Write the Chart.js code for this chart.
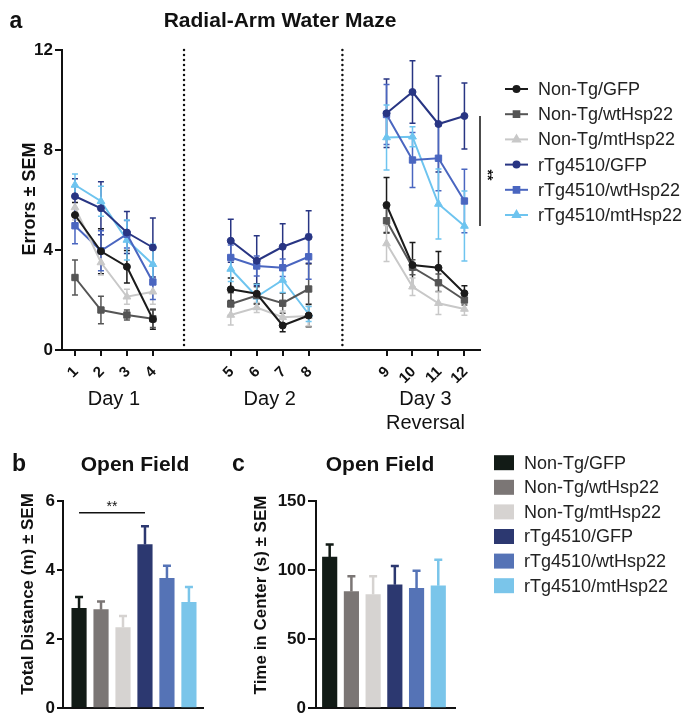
<!DOCTYPE html>
<html>
<head>
<meta charset="utf-8">
<script src="https://cdn.jsdelivr.net/npm/chart.js@4.4.1/dist/chart.umd.min.js"></script>
<style>
  html, body { margin: 0; padding: 0; background: #fff; }
  #wrap { position: relative; width: 696px; height: 721px; }
  canvas { position: absolute; }
</style>
</head>
<body>
<div id="wrap">
  <canvas id="rawm" width="696" height="440" style="left:0;top:0"></canvas>
  <canvas id="dist" width="220" height="281" style="left:0;top:440px"></canvas>
  <canvas id="center" width="476" height="281" style="left:220px;top:440px"></canvas>
</div>
<script>
// groups and colours
const groups = ['Non-Tg/GFP', 'Non-Tg/wtHsp22', 'Non-Tg/mtHsp22', 'rTg4510/GFP', 'rTg4510/wtHsp22', 'rTg4510/mtHsp22'];
const lineColors = ['#1b1b1b', '#555555', '#c8c8c8', '#283583', '#4a66c0', '#6ec4ef'];
const barColors = ['#121b16', '#7b7675', '#d6d3d1', '#2c3870', '#5573b6', '#7ac5ea'];
const markers = ['circle', 'rect', 'triangle', 'circle', 'rect', 'triangle'];
const markerSize = [3.5, 4.5, 4.5, 3.5, 4.5, 4.5];

// radial arm water maze: trials, grouped in days
const trials = [1, 2, 3, 4, 5, 6, 7, 8, 9, 10, 11, 12];
const trialPos = [1, 2, 3, 4, 7, 8, 9, 10, 13, 14, 15, 16];
const days = ['Day 1', 'Day 2', 'Day 3'];
const dayCenter = [2.5, 8.5, 14.5];
const dayDividers = [5.2, 11.3];

const nonTgGfp    = [5.4, 3.95, 3.33, 1.23, 2.43, 2.25, 0.98, 1.38, 5.8, 3.4, 3.29, 2.27];
const nonTgGfpSem = [0.5, 0.9, 0.65, 0.4, 0.45, 0.4, 0.25, 0.45, 1.1, 0.9, 0.65, 0.3];
const nonTgWt     = [2.9, 1.6, 1.4, 1.25, 1.84, 2.18, 1.87, 2.44, 5.17, 3.31, 2.69, 2.0];
const nonTgWtSem  = [0.7, 0.55, 0.2, 0.35, 0.45, 0.35, 0.4, 1.0, 0.5, 0.3, 0.35, 0.2];
const nonTgMt     = [5.7, 3.5, 2.13, 2.33, 1.4, 1.7, 1.31, 1.36, 4.26, 2.53, 1.87, 1.64];
const nonTgMtSem  = [0.5, 0.5, 0.3, 0.5, 0.4, 0.2, 0.25, 0.4, 0.72, 0.35, 0.45, 0.25];
const rtgGfp      = [6.15, 5.67, 4.7, 4.1, 4.37, 3.57, 4.13, 4.52, 9.47, 10.32, 9.04, 9.36];
const rtgGfpSem   = [0.7, 1.06, 0.84, 1.18, 0.86, 1.0, 0.92, 1.05, 1.37, 1.25, 1.92, 1.32];
const rtgWt       = [4.97, 3.97, 4.63, 2.72, 3.7, 3.36, 3.29, 3.73, 9.42, 7.6, 7.67, 5.96];
const rtgWtSem    = [0.72, 0.8, 0.55, 0.7, 0.5, 0.4, 0.35, 0.9, 1.2, 1.1, 1.3, 1.27];
const rtgMt       = [6.6, 5.95, 4.4, 3.43, 3.24, 2.13, 2.8, 1.44, 8.5, 8.53, 5.84, 4.96];
const rtgMtSem    = [0.44, 0.6, 0.8, 0.8, 0.5, 0.5, 0.5, 0.3, 1.3, 0.4, 1.4, 1.4];

// open field
const distance    = [2.89, 2.85, 2.33, 4.74, 3.76, 3.06];
const distanceSem = [0.33, 0.24, 0.34, 0.53, 0.36, 0.45];
const centerTime    = [109.4, 84.4, 82.2, 89.3, 86.8, 88.5];
const centerTimeSem = [9, 11, 13.3, 13.6, 12.7, 19];

const series = [nonTgGfp, nonTgWt, nonTgMt, rtgGfp, rtgWt, rtgMt];
const seriesSem = [nonTgGfpSem, nonTgWtSem, nonTgMtSem, rtgGfpSem, rtgWtSem, rtgMtSem];

const FONT = '"Liberation Sans", Arial, sans-serif';
Chart.defaults.font.family = FONT;
Chart.defaults.color = '#111';

function text(ctx, str, x, y, font, align, rot) {
  ctx.save();
  ctx.font = font;
  ctx.fillStyle = '#111';
  ctx.textAlign = align || 'center';
  ctx.textBaseline = 'middle';
  ctx.translate(x, y);
  if (rot) ctx.rotate(rot);
  ctx.fillText(str, 0, 0);
  ctx.restore();
}

const lineErrorBars = {
  id: 'lineErrorBars',
  beforeDatasetsDraw(chart) {
    const { ctx, scales: { x, y } } = chart;
    chart.data.datasets.forEach(ds => {
      ctx.save();
      ctx.strokeStyle = ds.borderColor;
      ctx.lineWidth = 1.5;
      ds.data.forEach((p, i) => {
        const px = x.getPixelForValue(p.x);
        const top = y.getPixelForValue(p.y + ds.sem[i]);
        const bot = y.getPixelForValue(p.y - ds.sem[i]);
        ctx.beginPath();
        ctx.moveTo(px, top); ctx.lineTo(px, bot);
        ctx.moveTo(px - 3, top); ctx.lineTo(px + 3, top);
        ctx.moveTo(px - 3, bot); ctx.lineTo(px + 3, bot);
        ctx.stroke();
      });
      ctx.restore();
    });
  }
};

const rawmDecor = {
  id: 'rawmDecor',
  afterDraw(chart) {
    const { ctx, scales: { x, y }, chartArea } = chart;
    text(ctx, 'a', 16, 22, 'bold 23px ' + FONT);
    text(ctx, 'Radial-Arm Water Maze', 280, 21, 'bold 21px ' + FONT);
    text(ctx, 'Errors \u00b1 SEM', 30, 199, 'bold 18px ' + FONT, 'center', -Math.PI / 2);

    // dotted day dividers
    ctx.save();
    ctx.strokeStyle = '#111';
    ctx.lineWidth = 2.5;
    ctx.lineCap = 'round';
    ctx.setLineDash([0, 5]);
    dayDividers.forEach(d => {
      const px = x.getPixelForValue(d);
      ctx.beginPath();
      ctx.moveTo(px, chartArea.top);
      ctx.lineTo(px, chartArea.bottom - 2);
      ctx.stroke();
    });
    ctx.restore();

    days.forEach((d, i) => text(ctx, d, x.getPixelForValue(dayCenter[i]), 399, '20px ' + FONT));
    text(ctx, 'Reversal', x.getPixelForValue(dayCenter[2]), 423, '20px ' + FONT);

    // significance bracket on trial 12
    const bx = chartArea.right;
    const y1 = y.getPixelForValue(rtgGfp[11]);
    const y2 = y.getPixelForValue(rtgMt[11]);
    ctx.save();
    ctx.strokeStyle = '#111';
    ctx.lineWidth = 1.5;
    ctx.beginPath();
    ctx.moveTo(bx, y1); ctx.lineTo(bx, y2);
    ctx.stroke();
    ctx.restore();
    text(ctx, '**', bx + 7, (y1 + y2) / 2 + 4, 'bold 14px ' + FONT, 'center', Math.PI / 2);

    // legend
    groups.forEach((g, i) => {
      const ly = 89 + 25.2 * i;
      ctx.save();
      ctx.strokeStyle = lineColors[i];
      ctx.fillStyle = lineColors[i];
      ctx.lineWidth = 2;
      ctx.beginPath();
      ctx.moveTo(505, ly); ctx.lineTo(528, ly);
      ctx.stroke();
      Chart.helpers.drawPoint(ctx, { pointStyle: markers[i], radius: markerSize[i] - 0.5, rotation: 0, borderWidth: 1 }, 516.5, ly);
      ctx.restore();
      ctx.save();
      ctx.font = '18px ' + FONT;
      ctx.fillStyle = '#222';
      ctx.textBaseline = 'middle';
      ctx.fillText(g, 538, ly + 1);
      ctx.restore();
    });
  }
};

new Chart(document.getElementById('rawm'), {
  type: 'line',
  data: {
    datasets: groups.map((g, k) => ({
      label: g,
      data: series[k].map((v, i) => ({ x: trialPos[i], y: v })),
      sem: seriesSem[k],
      borderColor: lineColors[k],
      backgroundColor: lineColors[k],
      pointBackgroundColor: lineColors[k],
      pointStyle: markers[k],
      pointRadius: markerSize[k],
      pointBorderWidth: 1,
      borderWidth: 2,
      segment: {
        borderColor: c => (c.p1.parsed.x - c.p0.parsed.x > 1.5 ? 'rgba(0,0,0,0)' : undefined)
      }
    }))
  },
  options: {
    responsive: false,
    animation: false,
    events: [],
    layout: { padding: { top: 50, right: 216, left: 0, bottom: 0 } },
    plugins: { legend: { display: false }, tooltip: { enabled: false } },
    scales: {
      x: {
        type: 'linear', min: 0.5, max: 16.6,
        afterBuildTicks: s => { s.ticks = trialPos.map(v => ({ value: v })); },
        afterFit: s => { s.height = 90; },
        ticks: {
          autoSkip: false, minRotation: 45, maxRotation: 45, padding: 7, labelOffset: 1,
          font: { size: 15, weight: 'bold' }, color: '#111',
          callback: (v, i) => trials[i]
        },
        grid: { drawOnChartArea: false, tickLength: 6, color: '#111', lineWidth: 2 },
        border: { color: '#111', width: 2 }
      },
      y: {
        min: 0, max: 12,
        afterFit: s => { s.width = 62; },
        ticks: { stepSize: 4, padding: 2, font: { size: 17, weight: 'bold' }, color: '#111' },
        grid: { drawOnChartArea: false, tickLength: 7, color: '#111', lineWidth: 2 },
        border: { color: '#111', width: 2 }
      }
    }
  },
  plugins: [lineErrorBars, rawmDecor]
});

// open field bar charts
function barErrors(sem) {
  return {
    id: 'barErrors',
    afterDatasetsDraw(chart) {
      const { ctx, scales: { x, y } } = chart;
      const ds = chart.data.datasets[0];
      ds.data.forEach((p, i) => {
        const px = x.getPixelForValue(p.x);
        const base = y.getPixelForValue(p.y);
        const top = y.getPixelForValue(p.y + sem[i]);
        ctx.save();
        ctx.strokeStyle = barColors[i];
        ctx.lineWidth = 2.5;
        ctx.beginPath();
        ctx.moveTo(px, base); ctx.lineTo(px, top);
        ctx.moveTo(px - 4, top); ctx.lineTo(px + 4, top);
        ctx.stroke();
        ctx.restore();
      });
    }
  };
}

function barOptions(cfg) {
  return {
    responsive: false,
    animation: false,
    events: [],
    layout: { padding: { top: 61, right: cfg.right, left: 0, bottom: 0 } },
    plugins: { legend: { display: false }, tooltip: { enabled: false } },
    scales: {
      x: {
        type: 'linear', min: cfg.xmin, max: cfg.xmax, offset: false,
        afterFit: s => { s.height = 13; },
        ticks: { display: false },
        grid: { display: false, offset: false },
        border: { color: '#111', width: 2 }
      },
      y: {
        min: 0, max: cfg.ymax,
        afterFit: s => { s.width = cfg.axisW; },
        ticks: { stepSize: cfg.step, padding: 2, font: { size: 17, weight: 'bold' }, color: '#111' },
        grid: { drawOnChartArea: false, tickLength: cfg.tick, color: '#111', lineWidth: 2 },
        border: { color: '#111', width: 2 }
      }
    }
  };
}

new Chart(document.getElementById('dist'), {
  type: 'bar',
  data: {
    datasets: [{
      label: 'Total Distance',
      data: distance.map((v, i) => ({ x: i, y: v })),
      backgroundColor: barColors,
      barThickness: 14.5
    }]
  },
  options: barOptions({ right: 17, xmin: -0.73, xmax: 5.64, ymax: 6, step: 2, axisW: 63, tick: 6 }),
  plugins: [barErrors(distanceSem), {
    id: 'distDecor',
    afterDraw(chart) {
      const { ctx, scales: { x, y } } = chart;
      text(ctx, 'b', 19, 25, 'bold 23px ' + FONT);
      text(ctx, 'Open Field', 135, 25, 'bold 21px ' + FONT);
      text(ctx, 'Total Distance (m) \u00b1 SEM', 28, 154, 'bold 17px ' + FONT, 'center', -Math.PI / 2);
      const sy = y.getPixelForValue(5.66);
      ctx.save();
      ctx.strokeStyle = '#111';
      ctx.lineWidth = 1.5;
      ctx.beginPath();
      ctx.moveTo(x.getPixelForValue(0), sy);
      ctx.lineTo(x.getPixelForValue(3), sy);
      ctx.stroke();
      ctx.restore();
      text(ctx, '**', (x.getPixelForValue(0) + x.getPixelForValue(3)) / 2, sy - 6, '14px ' + FONT);
    }
  }]
});

new Chart(document.getElementById('center'), {
  type: 'bar',
  data: {
    datasets: [{
      label: 'Time in Center',
      data: centerTime.map((v, i) => ({ x: i, y: v })),
      backgroundColor: barColors,
      barThickness: 14.5
    }]
  },
  options: barOptions({ right: 241, xmin: -0.63, xmax: 5.77, ymax: 150, step: 50, axisW: 96, tick: 8 }),
  plugins: [barErrors(centerTimeSem), {
    id: 'centerDecor',
    afterDraw(chart) {
      const { ctx } = chart;
      text(ctx, 'c', 18.5, 25, 'bold 23px ' + FONT);
      text(ctx, 'Open Field', 160, 25, 'bold 21px ' + FONT);
      text(ctx, 'Time in Center (s) \u00b1 SEM', 41, 155, 'bold 17px ' + FONT, 'center', -Math.PI / 2);
      groups.forEach((g, i) => {
        const ly = 22.7 + 24.6 * i;
        ctx.save();
        ctx.fillStyle = barColors[i];
        ctx.fillRect(274, ly - 7.5, 20, 15);
        ctx.font = '18px ' + FONT;
        ctx.fillStyle = '#222';
        ctx.textBaseline = 'middle';
        ctx.fillText(g, 304, ly + 1);
        ctx.restore();
      });
    }
  }]
});
</script>
</body>
</html>
